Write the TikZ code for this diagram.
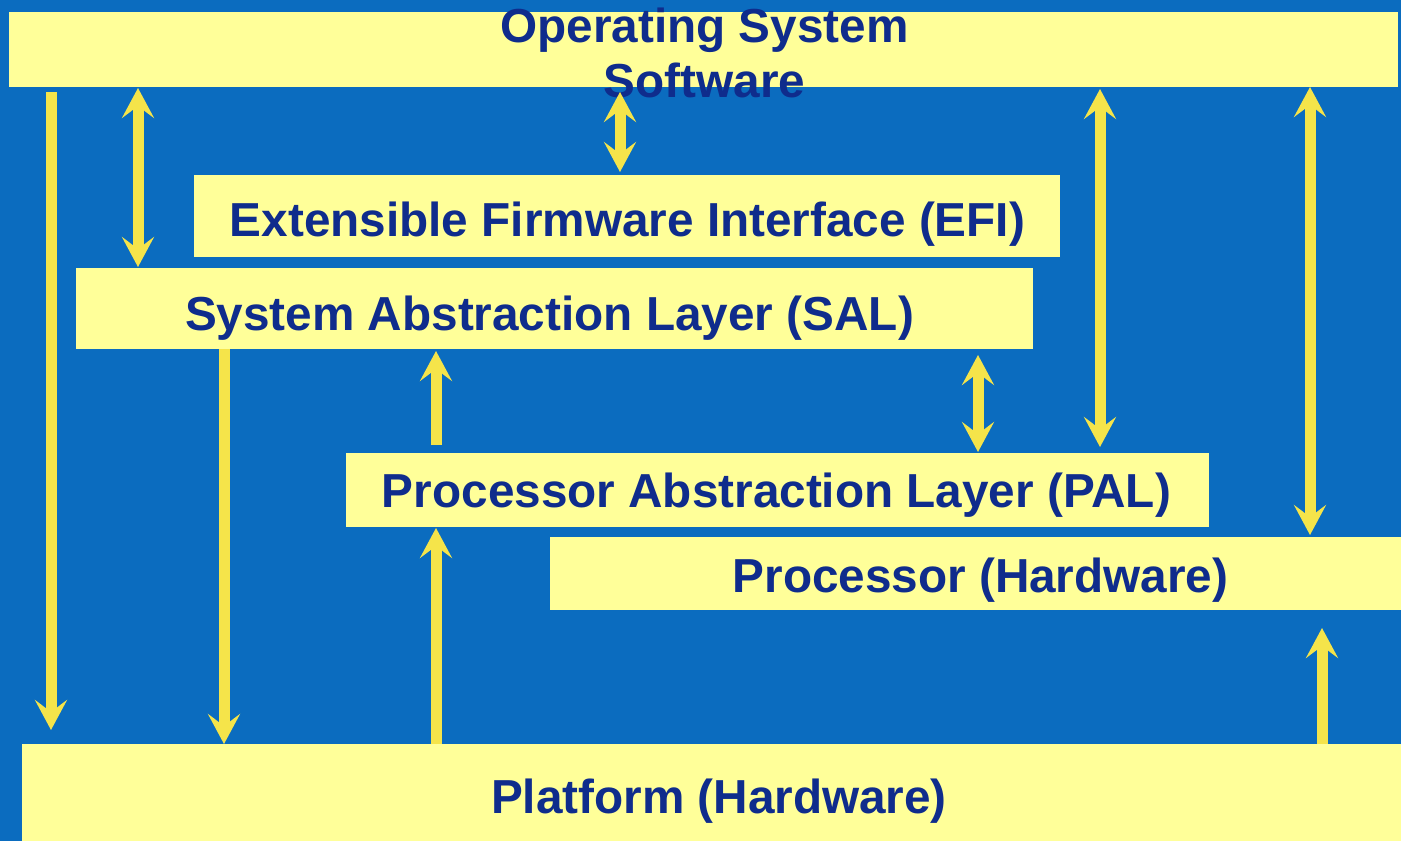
\documentclass[tikz,border=0pt]{standalone}
\usepackage{fontspec}
\setmainfont{Liberation Sans}
\usetikzlibrary{arrows.meta}
\definecolor{bgblue}{HTML}{0B6CBF}
\definecolor{boxyellow}{HTML}{FFFF99}
\definecolor{arrowyellow}{HTML}{F5E44A}
\definecolor{textblue}{HTML}{0F2C8C}
\tikzset{
  layer/.style={fill=boxyellow, draw=none, inner sep=0pt, outer sep=0pt},
  lbl/.style={text=textblue, inner sep=0pt, anchor=base,
    font=\fontsize{47.7}{54.8}\selectfont\bfseries},
  tip/.tip={Stealth[length=30pt, width=32pt, inset=12pt]},
  flow/.style={draw=arrowyellow, line width=11pt, fill=arrowyellow},
  down/.style={flow, -tip},
  up/.style={flow, -tip},
  both/.style={flow, tip-tip}
}
\begin{document}
\begin{tikzpicture}[x=1pt, y=-1pt]
  % canvas
  \fill[bgblue] (0,0) rectangle (1401,841);
  \useasboundingbox (0,0) rectangle (1401,841);

  % layers of the firmware model
  \node[layer, minimum width=1389pt, minimum height=75pt] (os)   at (703.5,49.5)  {};
  \node[layer, minimum width=866pt,  minimum height=82pt] (efi)  at (627,216)     {};
  \node[layer, minimum width=957pt,  minimum height=81pt] (sal)  at (554.5,308.5) {};
  \node[layer, minimum width=863pt,  minimum height=74pt] (pal)  at (777.5,490)   {};
  \node[layer, minimum width=851pt,  minimum height=73pt] (proc) at (975.5,573.5) {};
  \node[layer, minimum width=1379pt, minimum height=97pt] (plat) at (711.5,792.5) {};

  % layer names (the base of a two-line label is its last line)
  \node[lbl, align=center] (ostxt) at (704.5,97) {Operating System\\Software};
  \node[lbl] (efitxt)  at (627.5,236) {Extensible Firmware Interface (EFI)};
  \node[lbl] (saltxt)  at (549.5,330) {System Abstraction Layer (SAL)};
  \node[lbl] (paltxt)  at (776.5,507) {Processor Abstraction Layer (PAL)};
  \node[lbl] (proctxt) at (980.5,592) {Processor (Hardware)};
  \node[lbl] (plattxt) at (719,813)   {Platform (Hardware)};

  % calls between the layers
  \draw[down, shorten <=5pt, shorten >=14pt] (51,0 |- os.south)  -- (51,0 |- plat.north);
  \draw[both, shorten <=1pt, shorten >=1pt]  (138,0 |- os.south) -- (138,0 |- sal.north);
  \draw[both, shorten <=5pt, shorten >=3pt]  (620,0 |- os.south) -- (620,0 |- efi.north);
  \draw[both, shorten <=2pt, shorten >=6pt]  (1100,0 |- os.south) -- (1100,0 |- pal.north);
  \draw[both, shorten <=0pt, shorten >=2pt]  (1310,0 |- os.south) -- (1310,0 |- proc.north);
  \draw[both, shorten <=6pt, shorten >=1pt]  (978,0 |- sal.south) -- (978,0 |- pal.north);
  \draw[down]                                (224,0 |- sal.south) -- (224,0 |- plat.north);
  \draw[up, shorten <=8pt, shorten >=2pt]    (436,0 |- pal.north) -- (436,0 |- sal.south);
  \draw[up, shorten >=1pt]                   (436,0 |- plat.north) -- (436,0 |- pal.south);
  \draw[up, shorten >=18pt]                  (1322,0 |- plat.north) -- (1322,0 |- proc.south);
\end{tikzpicture}
\end{document}
